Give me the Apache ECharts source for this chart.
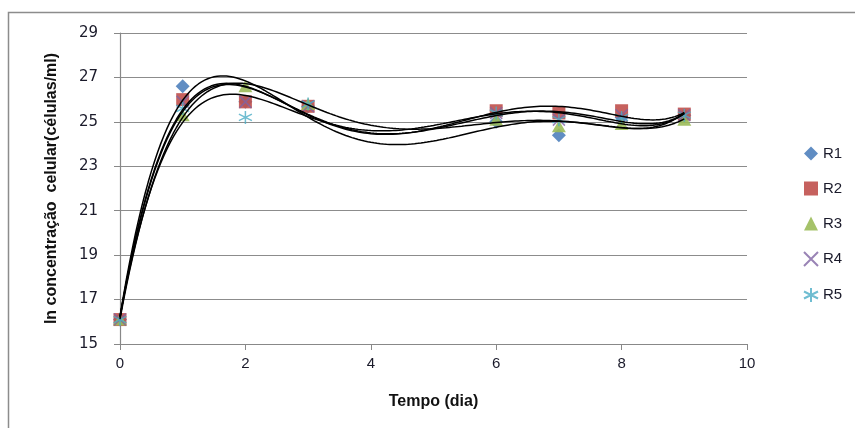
<!DOCTYPE html>
<html><head><meta charset="utf-8">
<script src="https://cdn.jsdelivr.net/npm/echarts@6/dist/echarts.min.js"></script>
<style>html,body{margin:0;padding:0;background:#fff}#c{width:855px;height:428px}</style>
</head><body><div id="c"></div>
<script>
var days = [0, 1, 2, 3, 6, 7, 8, 9];
var R1 = [16.1, 26.6, 25.9, 25.7, 25.0, 24.4, 25.2, 25.3];
var R2 = [16.1, 26.0, 25.9, 25.7, 25.5, 25.4, 25.5, 25.35];
var R3 = [16.1, 25.3, 26.6, 25.8, 25.1, 24.8, 24.9, 25.1];
var R4 = [16.1, 25.9, 25.9, 25.7, 25.4, 25.1, 25.3, 25.3];
var R5 = [16.1, 25.6, 25.2, 25.8, 25.4, 25.1, 25.2, 25.3];
var names = ['R1', 'R2', 'R3', 'R4', 'R5'];
var seriesVals = [R1, R2, R3, R4, R5];
var colors = ['#4F81BD', '#C0504D', '#9BBB59', '#8064A2', '#4BACC6'];
var ORDER = 5;

function polyfit(xs, ys, n) {
  var s = 9;
  var m = n + 1, A = [], b = [];
  for (var i = 0; i < m; i++) { A.push(new Array(m).fill(0)); b.push(0); }
  for (var k = 0; k < xs.length; k++) {
    var x = xs[k] / s;
    for (var i = 0; i < m; i++) {
      b[i] += ys[k] * Math.pow(x, i);
      for (var j = 0; j < m; j++) A[i][j] += Math.pow(x, i + j);
    }
  }
  for (var i = 0; i < m; i++) {
    var p = i;
    for (var r = i + 1; r < m; r++) if (Math.abs(A[r][i]) > Math.abs(A[p][i])) p = r;
    var t = A[i]; A[i] = A[p]; A[p] = t; var tb = b[i]; b[i] = b[p]; b[p] = tb;
    for (var r = i + 1; r < m; r++) {
      var f = A[r][i] / A[i][i];
      for (var c = i; c < m; c++) A[r][c] -= f * A[i][c];
      b[r] -= f * b[i];
    }
  }
  var coef = new Array(m).fill(0);
  for (var i = m - 1; i >= 0; i--) {
    var sum = b[i];
    for (var c = i + 1; c < m; c++) sum -= A[i][c] * coef[c];
    coef[i] = sum / A[i][i];
  }
  return function (xv) { var x = xv / s, y = 0; for (var i = 0; i < m; i++) y += coef[i] * Math.pow(x, i); return y; };
}

var symbols = [
  'diamond',
  'rect',
  'triangle',
  'path://M0,0L10,10M10,0L0,10',
  'path://M5,0L5,10M0,2.5L10,7.5M0,7.5L10,2.5'
];
var sizes = [[14, 14], [13, 13], [14, 12], [12, 12], [13, 13]];

var series = [];
seriesVals.forEach(function (vals, i) {
  var f = polyfit(days, vals, ORDER);
  var line = [];
  for (var x = days[0]; x <= days[days.length - 1] + 1e-9; x += 0.05) line.push([x, f(x)]);
  series.push({
    type: 'line', data: line, showSymbol: false, silent: true, smooth: false,
    lineStyle: { color: '#000', width: 1.5 }, z: 3, animation: false
  });
});
seriesVals.forEach(function (vals, i) {
  var stroke = i >= 3;
  series.push({
    name: names[i], type: 'scatter', symbol: symbols[i], symbolSize: sizes[i],
    data: days.map(function (d, k) { return [d, vals[k]]; }),
    itemStyle: stroke ? { color: 'rgba(0,0,0,0)', borderColor: colors[i], borderWidth: 1.5 } : { color: colors[i], opacity: 0.9 },
    z: 2, animation: false
  });
});

var chart = echarts.init(document.getElementById('c'));
chart.setOption({
  backgroundColor: '#fff',
  animation: false,
  graphic: [{ type: 'rect', shape: { x: 8.5, y: 12.5, width: 1000, height: 600 }, style: { fill: 'none', stroke: '#8c8c8c', lineWidth: 1.5 }, silent: true }],
  grid: { left: 120, right: 108, top: 33, bottom: 84 },
  legend: {
    orient: 'vertical', left: 798, top: 141, itemGap: 20, itemWidth: 14, itemHeight: 14,
    data: names, textStyle: { fontFamily: 'Liberation Sans', fontSize: 15, color: '#1a1a2a' }
  },
  xAxis: {
    type: 'value', min: 0, max: 10, interval: 2,
    name: 'Tempo (dia)', nameLocation: 'middle', nameGap: 50,
    nameTextStyle: { fontFamily: 'Liberation Sans', fontWeight: 'bold', fontSize: 16, color: '#111' },
    axisLine: { show: true, lineStyle: { color: '#888', width: 1.2 } },
    axisTick: { show: true, inside: false, length: 6, lineStyle: { color: '#888' } },
    axisLabel: { fontFamily: 'Liberation Sans', fontSize: 15, color: '#1a1a2a', margin: 12 },
    splitLine: { show: false }
  },
  yAxis: {
    type: 'value', min: 15, max: 29, interval: 2,
    name: 'ln concentração  celular(células/ml)', nameLocation: 'middle', nameGap: 60, nameRotate: 90,
    nameTextStyle: { fontFamily: 'Liberation Sans', fontWeight: 'bold', fontSize: 16, color: '#111' },
    axisLine: { show: true, lineStyle: { color: '#888', width: 1.2 } },
    axisTick: { show: true, inside: false, length: 6, lineStyle: { color: '#888' } },
    axisLabel: { fontFamily: 'DejaVu Sans', fontSize: 15, color: '#1a1a2a', margin: 22 },
    splitLine: { show: true, lineStyle: { color: '#8c8c8c', width: 1.2 } }
  },
  series: series
});
</script></body></html>
